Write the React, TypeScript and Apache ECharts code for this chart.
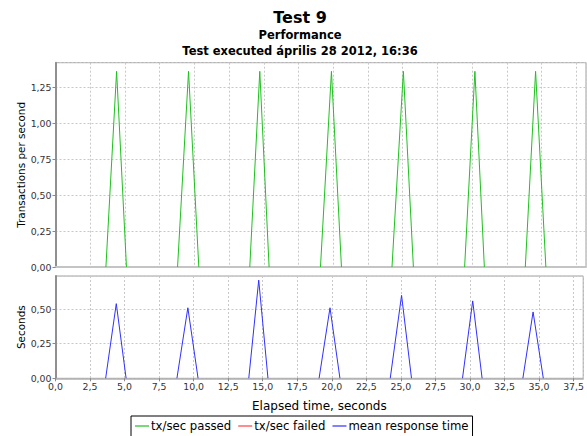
import React, { useEffect, useRef } from "react";
import * as echarts from "echarts";

const titleText = "Test 9";
const subtitle1 = "Performance";
const subtitle2 = "Test executed április 28 2012, 16:36";

const spikeStart = [3.63, 8.79, 13.99, 19.08, 24.23, 29.46, 33.83];
const spikePeak = [4.4, 9.58, 14.71, 19.87, 25.05, 30.2, 34.57];
const spikeEnd = [5.11, 10.32, 15.38, 20.59, 25.77, 30.88, 35.31];
const txPassed = [1.36, 1.36, 1.36, 1.36, 1.36, 1.36, 1.36];
const txFailed: number[] = [];
const meanResponse = [0.54, 0.51, 0.71, 0.51, 0.6, 0.56, 0.48];

const seriesNames = ["tx/sec passed", "tx/sec failed", "mean response time"];
const seriesColors = ["#1fc01f", "#ff4040", "#3030ff"];

const FONT = "DejaVu Sans";

function spikes(values: number[]) {
  const out: any[] = [];
  values.forEach((v, i) => {
    out.push([spikeStart[i], 0]);
    out.push([spikePeak[i], v]);
    out.push([spikeEnd[i], 0]);
    out.push([spikeEnd[i], "-"]);
  });
  return out;
}

const fmt = (d: number) => (v: number) => v.toFixed(d).replace(".", ",");

export default function App() {
  const ref = useRef<HTMLDivElement>(null);
  useEffect(() => {
    if (!ref.current) return;
    const chart = echarts.init(ref.current, null, { renderer: "svg" });
    const gridLeft = 55.5;
    const splitLine = { show: true, lineStyle: { color: "#c8c8c8", type: [2, 2] as any, width: 1 } };
    const xCommon = {
      type: "value" as const,
      min: 0,
      max: 38.2,
      interval: 2.5,
      splitLine,
    };
    chart.setOption({
      animation: false,
      backgroundColor: "#ffffff",
      graphic: [
        { type: "text", x: 300, y: 17, style: { text: titleText, font: `bold 16px "${FONT}"`, fill: "#000", textAlign: "center", textVerticalAlign: "middle" } },
        { type: "text", x: 300, y: 35, style: { text: subtitle1, font: `bold 11.5px "${FONT}"`, fill: "#000", textAlign: "center", textVerticalAlign: "middle" } },
        { type: "text", x: 300, y: 50.5, style: { text: subtitle2, font: `bold 11.5px "${FONT}"`, fill: "#000", textAlign: "center", textVerticalAlign: "middle" } },
      ],
      grid: [
        { left: gridLeft, top: 62.7, right: 1, height: 204.3, show: true, borderColor: "#a0a0a0", borderWidth: 1, backgroundColor: "#fff" },
        { left: gridLeft, top: 276, right: 1, height: 102.3, show: true, borderColor: "#a0a0a0", borderWidth: 1, backgroundColor: "#fff" },
      ],
      xAxis: [
        {
          ...xCommon,
          gridIndex: 0,
          axisLabel: { show: false },
          axisTick: { show: false },
          axisLine: { show: true, onZero: false, lineStyle: { color: "#c4c4c4", width: 2 } },
        },
        {
          ...xCommon,
          gridIndex: 1,
          name: "Elapsed time, seconds",
          nameLocation: "middle",
          nameGap: 22,
          nameMoveOverlap: false,
          nameTextStyle: { fontFamily: FONT, fontSize: 12, color: "#000" },
          axisLabel: { formatter: fmt(1), fontFamily: FONT, fontSize: 9.4, color: "#333", margin: 4, showMaxLabel: false },
          axisTick: { show: true, length: 3, lineStyle: { color: "#888" } },
          axisLine: { show: true, onZero: false, lineStyle: { color: "#b0b0b0", width: 1.5 } },
        },
      ],
      yAxis: [
        {
          type: "value",
          gridIndex: 0,
          min: 0,
          max: 1.42,
          interval: 0.25,
          name: "Transactions per second",
          nameLocation: "middle",
          nameGap: 30,
          nameMoveOverlap: false,
          nameTextStyle: { fontFamily: FONT, fontSize: 10.4, color: "#000" },
          axisLabel: { formatter: fmt(2), fontFamily: FONT, fontSize: 9.4, color: "#333", margin: 4, showMaxLabel: false },
          axisTick: { show: true, length: 3, lineStyle: { color: "#888" } },
          axisLine: { show: true, lineStyle: { color: "#909090", width: 2 } },
          splitLine,
        },
        {
          type: "value",
          gridIndex: 1,
          min: 0,
          max: 0.74,
          interval: 0.25,
          name: "Seconds",
          nameLocation: "middle",
          nameGap: 30,
          nameMoveOverlap: false,
          nameTextStyle: { fontFamily: FONT, fontSize: 10.4, color: "#000" },
          axisLabel: { formatter: fmt(2), fontFamily: FONT, fontSize: 9.4, color: "#333", margin: 4, showMaxLabel: false },
          axisTick: { show: true, length: 3, lineStyle: { color: "#888" } },
          axisLine: { show: true, lineStyle: { color: "#909090", width: 2 } },
          splitLine,
        },
      ],
      legend: {
        left: 131,
        top: 416,
        orient: "horizontal",
        borderColor: "#000",
        borderWidth: 1,
        borderRadius: 0,
        padding: [4, 4, 6, 4],
        itemGap: 7,
        itemWidth: 14,
        itemHeight: 1.2,
        icon: "rect",
        textStyle: { fontFamily: FONT, fontSize: 11.7, color: "#000", padding: [0, 0, 0, -3] },
        data: seriesNames,
      },
      series: [
        {
          name: seriesNames[0],
          type: "line",
          xAxisIndex: 0,
          yAxisIndex: 0,
          data: spikes(txPassed),
          showSymbol: false,
          connectNulls: false,
          color: seriesColors[0],
          lineStyle: { width: 1, color: seriesColors[0] },
        },
        {
          name: seriesNames[1],
          type: "line",
          xAxisIndex: 0,
          yAxisIndex: 0,
          data: spikes(txFailed),
          showSymbol: false,
          color: seriesColors[1],
          lineStyle: { width: 1, color: seriesColors[1] },
        },
        {
          name: seriesNames[2],
          type: "line",
          xAxisIndex: 1,
          yAxisIndex: 1,
          data: spikes(meanResponse),
          showSymbol: false,
          connectNulls: false,
          color: seriesColors[2],
          lineStyle: { width: 1, color: seriesColors[2] },
        },
      ],
    });
    return () => chart.dispose();
  }, []);
  return (
    <div
      ref={ref}
      style={{ position: "fixed", left: 0, top: 0, width: 587, height: 436, background: "#fff" }}
    />
  );
}
